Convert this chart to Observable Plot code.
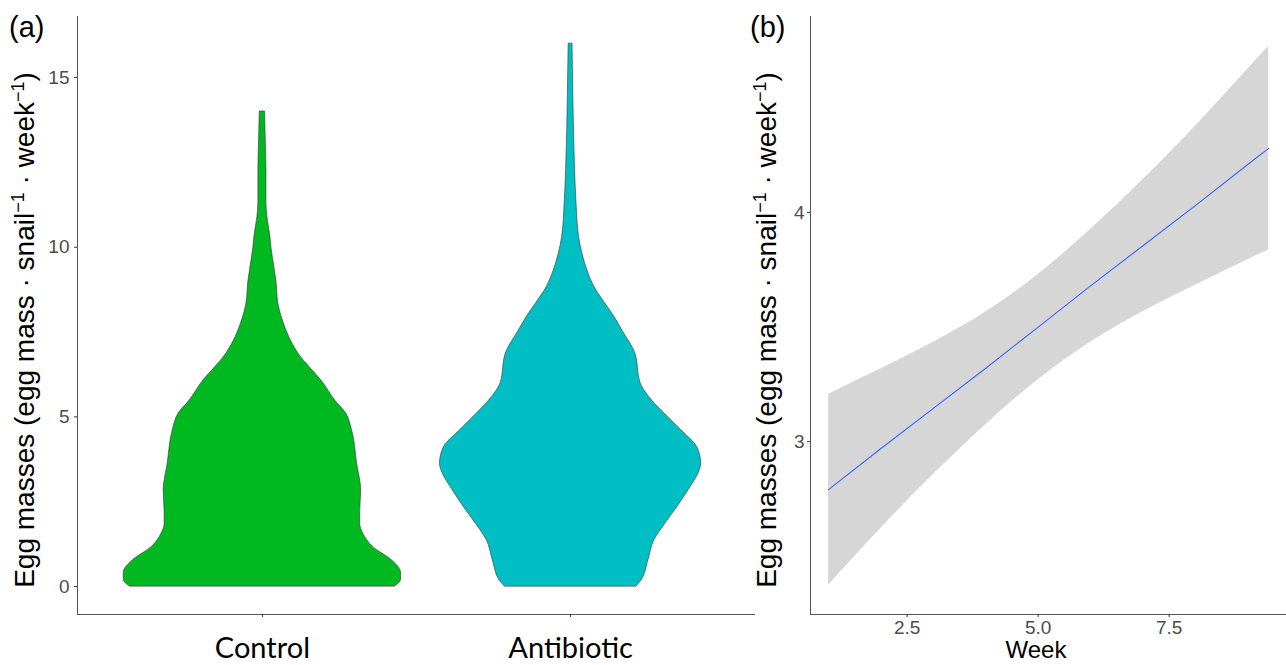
<!DOCTYPE html>
<html><head><meta charset="utf-8">
<script src="https://cdn.jsdelivr.net/npm/d3@7"></script>
<script src="https://cdn.jsdelivr.net/npm/@observablehq/plot@0.6"></script>
<style>
html,body{margin:0;padding:0;background:#fff;overflow:hidden;}
#wrap{position:relative;width:1286px;height:665px;overflow:hidden;}
#wrap > svg{position:absolute;top:0;}
</style></head><body><div id="wrap"></div>
<script>
// ---- Panel (a): violin data (egg masses value, relative density width) ----
const categories = ["Control", "Antibiotic"];
const categoryColors = ["#00B81F", "#00BFC4"];
const controlEgg = [0, 0.2, 0.4, 0.77, 1.16, 1.56, 1.85, 2.15, 2.83, 3.62, 4.6, 5.1, 5.48, 6.0, 6.87, 7.84, 8.34, 9.0, 9.31, 10.0, 10.3, 10.9, 11.3, 12.3, 13.0, 14.0];
const controlDensity = [0.957, 1.0, 1.0, 0.935, 0.799, 0.727, 0.705, 0.705, 0.712, 0.683, 0.647, 0.604, 0.525, 0.439, 0.259, 0.147, 0.115, 0.101, 0.090, 0.065, 0.058, 0.036, 0.029, 0.029, 0.025, 0.019];
const antibioticEgg = [0, 0.18, 0.77, 1.36, 1.85, 2.34, 2.83, 3.32, 3.62, 4.1, 4.6, 5.1, 5.58, 6.0, 6.86, 7.54, 7.94, 8.33, 8.82, 9.31, 9.8, 10.3, 11.28, 12.3, 14.4, 16.0];
const antibioticDensity = [0.475, 0.511, 0.561, 0.604, 0.683, 0.770, 0.849, 0.921, 0.942, 0.914, 0.799, 0.676, 0.568, 0.504, 0.468, 0.374, 0.317, 0.252, 0.173, 0.122, 0.086, 0.061, 0.043, 0.032, 0.020, 0.014];
const yTicksA = [0, 5, 10, 15];

// ---- Panel (b): linear fit with confidence band ----
const weeks = [1, 2, 3, 4, 5, 6, 7, 8, 9, 9.4];
const fitValues = [2.79, 2.97, 3.145, 3.32, 3.50, 3.68, 3.855, 4.03, 4.21, 4.28];
const upperValues = [3.207, 3.318, 3.434, 3.566, 3.73, 3.926, 4.143, 4.377, 4.626, 4.725];
const lowerValues = [2.373, 2.622, 2.856, 3.074, 3.27, 3.434, 3.567, 3.683, 3.794, 3.835];
const xTicksB = [2.5, 5.0, 7.5];
const yTicksB = [3, 4];

const violinHalf = 0.45;
const controlData = controlEgg.map((v, i) => ({pos: 1, v, w: controlDensity[i]}));
const antibioticData = antibioticEgg.map((v, i) => ({pos: 2, v, w: antibioticDensity[i]}));
const bandData = weeks.map((week, i) => ({week, fit: fitValues[i], hi: upperValues[i], lo: lowerValues[i]}));

const tickFont = "'Liberation Sans', Arial, sans-serif";
const xDomA = [0.4, 2.6];
const yDomA = [-0.825, 16.8];

const plotA = Plot.plot({
  width: 760, height: 665,
  marginLeft: 77, marginRight: 5, marginTop: 16, marginBottom: 51,
  style: {background: "transparent", overflow: "visible"},
  x: {domain: xDomA, axis: null},
  y: {domain: yDomA, axis: null},
  marks: [
    Plot.areaX(controlData, {y: "v", x1: d => d.pos - violinHalf * d.w, x2: d => d.pos + violinHalf * d.w,
      fill: categoryColors[0], stroke: "#333", strokeWidth: 0.6, curve: "monotone-y"}),
    Plot.areaX(antibioticData, {y: "v", x1: d => d.pos - violinHalf * d.w, x2: d => d.pos + violinHalf * d.w,
      fill: categoryColors[1], stroke: "#333", strokeWidth: 0.6, curve: "monotone-y"}),
    Plot.ruleX([xDomA[0]], {stroke: "#555"}),
    Plot.ruleY([yDomA[0]], {stroke: "#555"}),
    Plot.axisY(yTicksA, {label: null, tickSize: 3, tickPadding: 5, fontSize: 19, fontFamily: tickFont,
      stroke: "#333", fill: "#4D4D4D"}),
    Plot.axisX([1, 2], {label: null, tickFormat: d => categories[d - 1], tickSize: 3, tickPadding: 20,
      fontSize: 29, fontFamily: "Lato, 'Open Sans', sans-serif", stroke: "#333", fill: "#000"})
  ]
});

const xDomB = [0.655, 9.74];
const yDomB = [2.245, 4.856];
const plotB = Plot.plot({
  width: 546, height: 665,
  marginLeft: 70, marginRight: 0, marginTop: 16, marginBottom: 51,
  style: {background: "transparent", overflow: "visible"},
  x: {domain: xDomB, axis: null},
  y: {domain: yDomB, axis: null},
  marks: [
    Plot.areaY(bandData, {x: "week", y1: "lo", y2: "hi", fill: "#d6d6d6", curve: "natural"}),
    Plot.line(bandData, {x: "week", y: "fit", stroke: "#3366FF", strokeWidth: 1.1}),
    Plot.ruleX([xDomB[0]], {stroke: "#555"}),
    Plot.ruleY([yDomB[0]], {stroke: "#555"}),
    Plot.axisY(yTicksB, {label: null, tickFormat: d => String(d), tickSize: 3, tickPadding: 3, fontSize: 19,
      fontFamily: tickFont, stroke: "#333", fill: "#4D4D4D"}),
    Plot.axisX(xTicksB, {label: null, tickFormat: d => d.toFixed(1), tickSize: 3, tickPadding: 3, fontSize: 19,
      fontFamily: tickFont, stroke: "#333", fill: "#4D4D4D"})
  ]
});

const wrap = document.getElementById("wrap");
plotA.style.left = "0px";
plotB.style.left = "740px";
wrap.appendChild(plotA);
wrap.appendChild(plotB);

// Titles overlay
const titleFont = "'Liberation Sans', Arial, sans-serif";
const yTitle = (x) => `<text transform="translate(${x},330) rotate(-90)" text-anchor="middle" font-size="28" fill="#000">Egg masses (egg mass · snail<tspan font-size="18" dy="-10">−1</tspan><tspan dy="10"> · week</tspan><tspan font-size="18" dy="-10">−1</tspan><tspan dy="10">)</tspan></text>`;
const overlay = document.createElementNS("http://www.w3.org/2000/svg", "svg");
overlay.setAttribute("width", 1286);
overlay.setAttribute("height", 665);
overlay.style.left = "0px";
overlay.style.pointerEvents = "none";
overlay.setAttribute("font-family", titleFont);
overlay.innerHTML =
  `<text x="9" y="37" font-size="29" fill="#000">(a)</text>` +
  `<text x="750" y="37" font-size="29" fill="#000">(b)</text>` +
  yTitle(34) + yTitle(776) +
  `<text x="1036" y="658" text-anchor="middle" font-size="24" fill="#000">Week</text>`;
wrap.appendChild(overlay);
</script>
</body></html>
